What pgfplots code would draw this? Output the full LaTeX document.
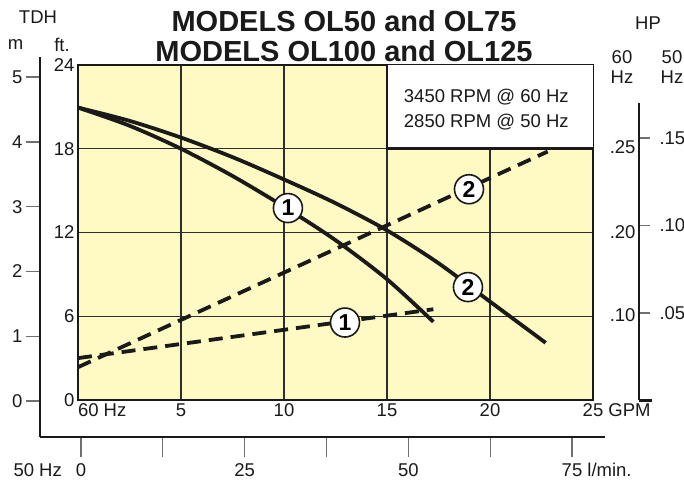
\documentclass[border=0pt]{standalone}
\usepackage{fontspec}
\setmainfont{Liberation Sans}
\usepackage{pgfplots}
\pgfplotsset{compat=1.18}
\definecolor{chartyellow}{HTML}{FFF9C4}
\definecolor{gridc}{HTML}{2E2E2E}
\definecolor{tickgray}{HTML}{707070}
\definecolor{ink}{HTML}{1A1A1A}
\newcommand\lbl{\fontsize{18.5}{20}\selectfont}
\begin{document}
\begin{tikzpicture}[x=1pt,y=1pt]
\useasboundingbox (0,0) rectangle (684,487);

% ---- left metre scale
\begin{axis}[at={(40pt,50pt)}, anchor=south west, scale only axis,
  width=565pt, height=380pt,
  xmin=-6.26, xmax=80.04, ymin=-0.556, ymax=5.31,
  axis y line=left, axis x line=none,
  axis line style={line width=2.6pt, ink, -},
  ytick={0,1,2,3,4,5}, yticklabels={0,1,2,3,4,5},
  tick align=outside, major tick length=14pt,
  ytick style={tickgray, line width=1.3pt},
  yticklabel style={font=\lbl, text=ink},
]
\end{axis}

% ---- bottom l/min scale
\begin{axis}[at={(40pt,50pt)}, anchor=south west, scale only axis,
  width=565pt, height=380pt,
  xmin=-6.26, xmax=80.04, ymin=-0.556, ymax=5.31,
  axis x line=bottom, axis y line=none,
  axis line style={line width=2.6pt, ink, -},
  xtick={0,12.5,25,37.5,50,62.5,75},
  xticklabels={\llap{50 Hz\hspace{14pt}}0,,25,,50,,75\rlap{ l/min.}},
  tick align=outside, major tick length=20pt,
  xtick style={tickgray, line width=1.3pt},
  xticklabel style={font=\lbl, text=ink, yshift=-3pt},
]
\end{axis}

% ---- HP scale, 50 Hz (right of line)
\begin{axis}[at={(639pt,86.5pt)}, anchor=south west, scale only axis,
  width=13pt, height=297.5pt,
  xmin=0, xmax=1, ymin=0, ymax=0.170,
  axis y line=left, axis x line=bottom,
  axis line style={line width=2.6pt, ink, -},
  xtick=\empty,
  ytick={0.05,0.10,0.15}, yticklabels={.05,.10,.15},
  tick align=inside, major tick length=11pt,
  ytick style={tickgray, line width=1.3pt},
  yticklabel style={font=\lbl, text=ink, anchor=west, xshift=17pt},
]
\end{axis}

% ---- HP scale, 60 Hz (left of line)
\begin{axis}[at={(639pt,86.5pt)}, anchor=south west, scale only axis,
  width=13pt, height=297.5pt,
  xmin=0, xmax=1, ymin=0, ymax=0.170,
  axis y line=left, axis x line=none,
  y axis line style={draw=none},
  xtick=\empty,
  ytick={0.0489,0.0963,0.1449}, yticklabels={.10,.20,.25},
  major tick length=0pt,
  yticklabel style={font=\lbl, text=ink},
]
\end{axis}

% ---- main chart
\begin{axis}[at={(78pt,87pt)}, anchor=south west, scale only axis,
  width=515pt, height=335pt,
  xmin=0, xmax=25, ymin=0, ymax=24,
  axis background/.style={fill=chartyellow},
  grid=major, grid style={gridc, line width=1.1pt},
  axis line style={line width=2.6pt, ink},
  xtick={0,5,10,15,20,25},
  xticklabels={\rlap{60 Hz},5,10,15,20,25\rlap{ GPM}},
  ytick={0,6,12,18,24}, yticklabels={0,6,12,18,24},
  major tick length=0pt,
  tick label style={font=\lbl, text=ink},
]
% white legend box
\addplot[fill=white, draw=none]
  coordinates {(15,24) (15,18) (25,18) (25,24)} -- cycle;
\addplot[ink, line width=2.6pt] coordinates {(14.95,18) (25.2,18)};
\draw[ink, line width=2.8pt] (axis cs:15,17.9) -- (axis cs:15,24.2);
% head curves
\addplot[ink, line width=3.8pt, smooth] coordinates {
  (0,20.95) (2.5,19.65) (5,18.0) (7.5,16.05) (10,13.85) (12.5,11.45) (15,8.65) (17.25,5.6)};
\addplot[ink, line width=3.8pt, smooth] coordinates {
  (0,20.95) (2.5,20.0) (5,18.8) (7.5,17.4) (10,15.8) (12.5,14.1) (15,12.15) (17.5,9.8) (20,7.05) (22.7,4.1)};
% HP curves
\addplot[ink, line width=3.8pt, dash pattern=on 14pt off 8pt] coordinates {(0,2.35) (22.8,17.8)};
\addplot[ink, line width=3.8pt, dash pattern=on 14pt off 8pt] coordinates {(0,3.0) (17.25,6.5)};
% circled curve numbers
\addplot[draw=none, mark=none, nodes near coords, point meta=explicit symbolic,
  every node near coord/.style={circle, draw=ink, line width=1.6pt, fill=white,
    inner sep=0pt, minimum size=29pt, anchor=center,
    font=\fontsize{23}{23}\selectfont\bfseries}]
  coordinates {(10.19,13.75) [1] (18.93,8.09) [2] (18.98,15.1) [2] (12.96,5.55) [1]};
\node[anchor=west, font=\lbl, text=ink] at (axis cs:15.65,21.7) {3450 RPM @ 60 Hz};
\node[anchor=west, font=\lbl, text=ink] at (axis cs:15.65,19.9) {2850 RPM @ 50 Hz};
\end{axis}

% ---- titles and scale headings
\node[anchor=base, font=\fontsize{29}{30}\selectfont\bfseries, text=ink] at (344,455) {MODELS OL50 and OL75};
\node[anchor=base, font=\fontsize{29}{30}\selectfont\bfseries, text=ink] at (344,425) {MODELS OL100 and OL125};
\node[font=\lbl, text=ink] at (38,470) {TDH};
\node[font=\lbl, text=ink] at (15.5,442) {m};
\node[font=\lbl, text=ink] at (62,442) {ft.};
\node[font=\lbl, text=ink] at (648,464) {HP};
\node[font=\lbl, text=ink] at (622,430) {60};
\node[font=\lbl, text=ink] at (672,430) {50};
\node[font=\lbl, text=ink] at (622,410) {Hz};
\node[font=\lbl, text=ink] at (672,410) {Hz};
\end{tikzpicture}
\end{document}
